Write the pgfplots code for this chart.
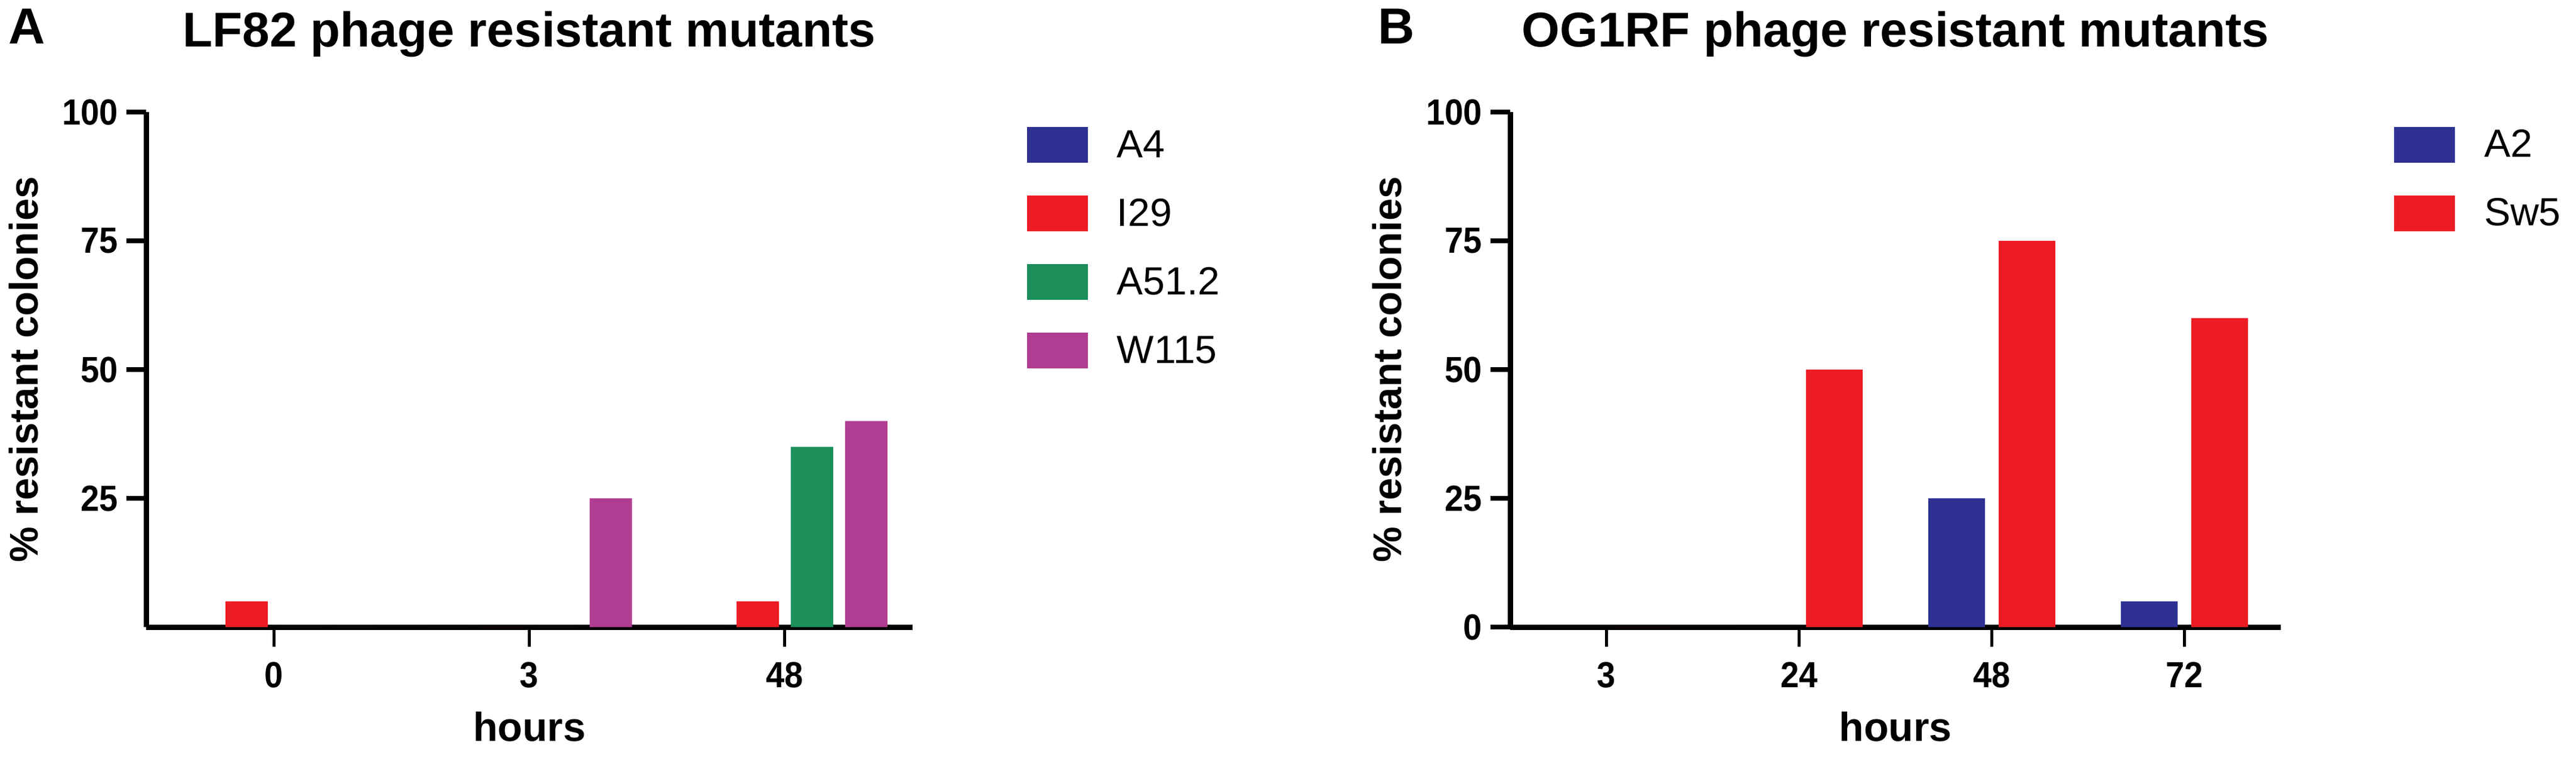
\documentclass[border=0pt]{standalone}
\usepackage{fontspec}
\setmainfont{Liberation Sans}
\newfontfamily\narrowfont[FakeStretch=0.92]{Liberation Sans}
\usepackage{pgfplots}
\pgfplotsset{compat=1.18}
\definecolor{cBlue}{RGB}{46,49,146}
\definecolor{cRed}{RGB}{237,28,36}
\definecolor{cGreen}{RGB}{28,143,90}
\definecolor{cPurple}{RGB}{176,61,145}
\pgfplotsset{
  common/.style={
    scale only axis, height=86.4pt,
    ymin=0, ymax=100,
    axis x line=bottom, axis y line=left,
    axis line style={-, line width=0.9pt, black},
    tick align=outside, major tick length=3.3pt,
    xtick style={line width=0.5pt, black},
    ytick style={line width=0.8pt, black},
    ticklabel style={font=\narrowfont\bfseries\fontsize{6.1}{7}\selectfont},
    yticklabel style={xshift=2.1pt},
    xticklabel style={yshift=0.9pt},
    /pgf/number format/assume math mode=true,
    every axis title shift=0pt,
    title style={font=\bfseries\fontsize{8.2}{9}\selectfont, at={(axis description cs:0.5,1.1273)}, anchor=base},
    xlabel=hours,
    xlabel style={font=\bfseries\fontsize{6.8}{8}\selectfont, at={(axis description cs:0.5,-0.2211)}, anchor=base},
    ylabel={\% resistant colonies},
    ylabel style={font=\bfseries\fontsize{6.7}{8}\selectfont, anchor=base},
    legend cell align=left,
    legend style={draw=none, fill=none, inner sep=0pt, outer sep=0pt, anchor=north west,
      font=\fontsize{6.6}{8}\selectfont, row sep=5.5pt,
      nodes={inner sep=0pt, text height=4.6pt, text depth=0pt},
      /tikz/every odd column/.append style={column sep=4.9pt}},
    ybar,
    every axis plot post/.append style={draw=none,
      legend image code/.code={\fill[##1] (0pt,-3.2pt) rectangle (10.2pt,2.8pt);}},
  }
}
\begin{document}
\begin{tikzpicture}
\useasboundingbox (0,0) rectangle (431.9pt,126.9pt);
\node[anchor=base west, font=\bfseries\fontsize{8.5}{10}\selectfont, inner sep=0pt] at (1.3pt,119.6pt) {A};
\node[anchor=base west, font=\bfseries\fontsize{8.5}{10}\selectfont, inner sep=0pt] at (230.8pt,119.6pt) {B};
\begin{axis}[common,
  at={(24.5pt,21.7pt)}, anchor=south west, width=128.5pt,
  xmin=-0.5, xmax=2.5, xtick={0,1,2}, xticklabels={0,3,48},
  ytick={25,50,75,100},
  bar width=7.1pt, ybar=2.0pt,
  title={LF82 phage resistant mutants},
  ylabel style={at={(axis description cs:-0.1416,0.5)}},
  legend style={at={(axis description cs:1.1494,0.9711)}},
]
\addplot[fill=cBlue] coordinates {(0,0) (1,0) (2,0)};
\addlegendentry{A4}
\addplot[fill=cRed] coordinates {(0,5) (1,0) (2,5)};
\addlegendentry{I29}
\addplot[fill=cGreen] coordinates {(0,0) (1,0) (2,35)};
\addlegendentry{A51.2}
\addplot[fill=cPurple] coordinates {(0,0) (1,25) (2,40)};
\addlegendentry{W115}
\end{axis}
\begin{axis}[common,
  at={(253.2pt,21.7pt)}, anchor=south west, width=129.2pt,
  xmin=-0.5, xmax=3.5, xtick={0,1,2,3}, xticklabels={3,24,48,72},
  ytick={0,25,50,75,100},
  bar width=9.5pt, ybar=2.3pt,
  title={OG1RF phage resistant mutants},
  ylabel style={at={(axis description cs:-0.1409,0.5)}},
  legend style={at={(axis description cs:1.1471,0.9711)}},
]
\addplot[fill=cBlue] coordinates {(0,0) (1,0) (2,25) (3,5)};
\addlegendentry{A2}
\addplot[fill=cRed] coordinates {(0,0) (1,50) (2,75) (3,60)};
\addlegendentry{Sw5}
\end{axis}
\end{tikzpicture}
\end{document}
